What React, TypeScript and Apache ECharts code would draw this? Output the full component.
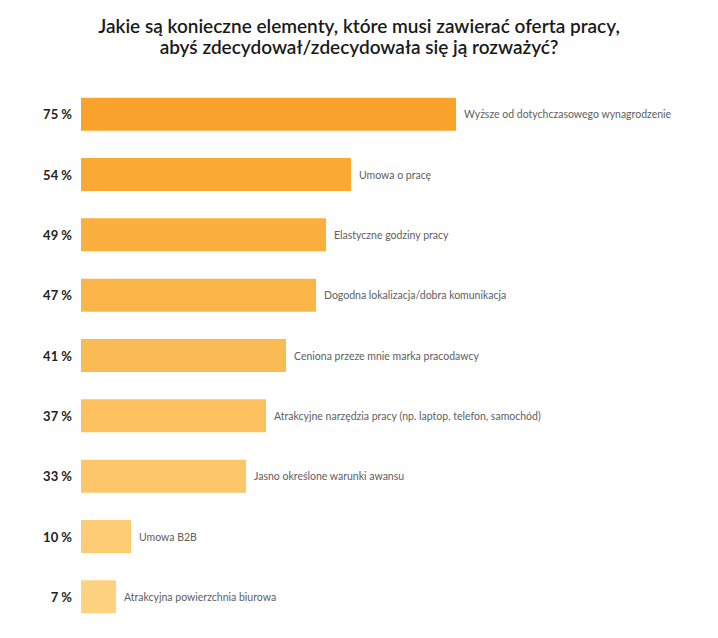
import React, { useEffect, useRef } from 'react';
import * as echarts from 'echarts';

const CATEGORIES = [
  'Wyższe od dotychczasowego wynagrodzenie',
  'Umowa o pracę',
  'Elastyczne godziny pracy',
  'Dogodna lokalizacja/dobra komunikacja',
  'Ceniona przeze mnie marka pracodawcy',
  'Atrakcyjne narzędzia pracy (np. laptop, telefon, samochód)',
  'Jasno określone warunki awansu',
  'Umowa B2B',
  'Atrakcyjna powierzchnia biurowa',
];

const VALUES = [75, 54, 49, 47, 41, 37, 33, 10, 7];

const BAR_COLORS = [
  '#F9A32C',
  '#FAA935',
  '#FAAF3F',
  '#FBB549',
  '#FBBB54',
  '#FCC15E',
  '#FCC669',
  '#FDCC75',
  '#FDD382',
];

const TITLE = 'Jakie są konieczne elementy, które musi zawierać oferta pracy,\nabyś zdecydował/zdecydowała się ją rozważyć?';

export default function App() {
  const chartRef = useRef<HTMLDivElement>(null);

  useEffect(() => {
    document.body.style.margin = '0';
    if (!chartRef.current) return;
    const chart = echarts.init(chartRef.current, undefined, { renderer: 'svg' });

    chart.setOption({
      animation: false,
      backgroundColor: '#ffffff',
      title: {
        text: TITLE,
        left: 'center',
        top: 10,
        textStyle: {
          fontFamily: 'Lato',
          fontSize: 19,
          fontWeight: 600,
          color: '#1a1a1a',
          lineHeight: 21,
        },
      },
      grid: {
        left: 81,
        right: 137,
        top: 84,
        bottom: 11,
        containLabel: false,
      },
      xAxis: {
        type: 'value',
        min: 0,
        max: 100,
        show: false,
      },
      yAxis: {
        type: 'category',
        inverse: true,
        data: CATEGORIES,
        axisLine: { show: false },
        axisTick: { show: false },
        axisLabel: {
          margin: 9,
          fontFamily: 'Lato',
          fontSize: 13,
          fontWeight: 'bold',
          color: '#222222',
          formatter: (_v: string, i: number) => `${VALUES[i]} %`,
        },
      },
      series: [
        {
          type: 'bar',
          barWidth: 33,
          data: VALUES.map((v, i) => ({ value: v, itemStyle: { color: BAR_COLORS[i] } })),
          label: {
            show: true,
            position: 'right',
            distance: 8,
            fontFamily: 'Lato',
            fontSize: 10.5,
            color: '#606060',
            formatter: (p: { dataIndex: number }) => CATEGORIES[p.dataIndex],
          },
        },
      ],
    });

    return () => {
      chart.dispose();
    };
  }, []);

  return <div ref={chartRef} style={{ width: 718, height: 638 }} />;
}
